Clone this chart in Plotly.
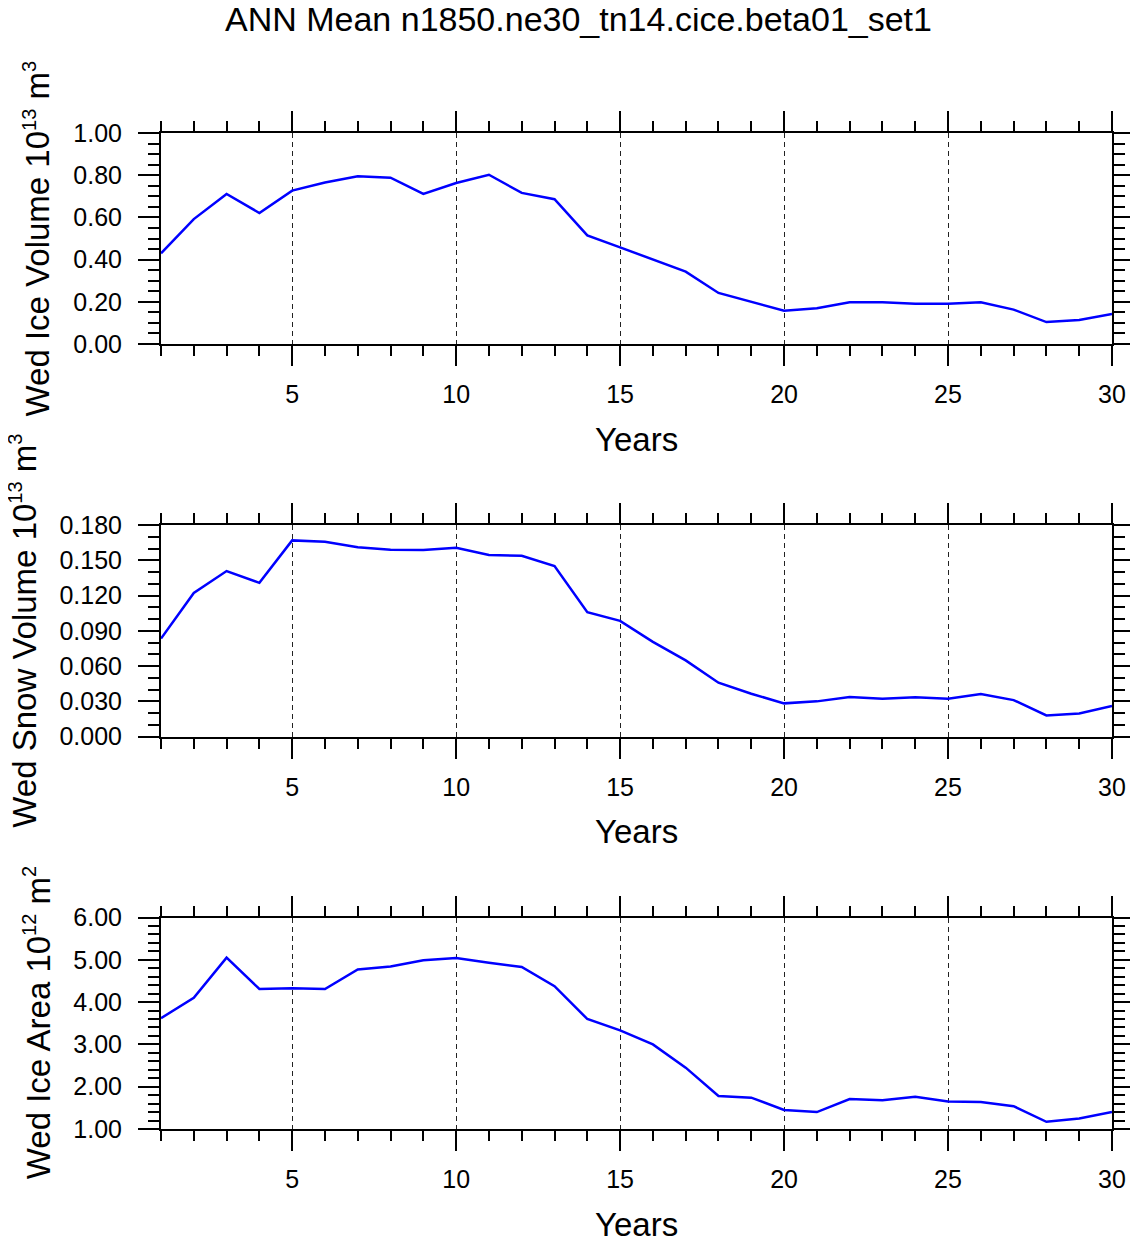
import plotly.graph_objects as go
from plotly.subplots import make_subplots

# data (years 1..30)
years = list(range(1, 31))

ice_volume = [0.430, 0.592, 0.711, 0.621, 0.727, 0.765, 0.795, 0.788, 0.711, 0.763,
              0.802, 0.716, 0.686, 0.515, 0.458, 0.400, 0.343, 0.242, 0.200, 0.158,
              0.169, 0.198, 0.198, 0.191, 0.191, 0.198, 0.163, 0.104, 0.114, 0.142]

snow_volume = [0.0833, 0.1222, 0.1408, 0.1308, 0.1669, 0.1658, 0.1610, 0.1590, 0.1587, 0.1607,
               0.1544, 0.1538, 0.1450, 0.1058, 0.0984, 0.0805, 0.0648, 0.0458, 0.0364, 0.0282,
               0.0299, 0.0336, 0.0321, 0.0333, 0.0321, 0.0361, 0.0310, 0.0179, 0.0196, 0.0259]

ice_area = [3.62, 4.10, 5.05, 4.31, 4.33, 4.31, 4.77, 4.84, 4.99, 5.04,
            4.93, 4.83, 4.375, 3.60, 3.33, 3.00, 2.45, 1.78, 1.74, 1.45,
            1.40, 1.71, 1.68, 1.76, 1.65, 1.64, 1.54, 1.17, 1.25, 1.40]

def sup(s):
    # NCL draws its superscripts a bit smaller than plotly's default
    return '<sup><span style="font-size:20px">%s</span></sup>' % s

panel_titles = ["Wed Ice Volume 10" + sup("13") + " m" + sup("3"),
                "Wed Snow Volume 10" + sup("13") + " m" + sup("3"),
                "Wed Ice Area 10" + sup("12") + " m" + sup("2")]
y_ranges = [(0, 1.0), (0, 0.18), (1, 6)]
y_dticks = [0.2, 0.03, 1.0]
y_minor = [0.05, 0.01, 0.2]
y_formats = [".2f", ".3f", ".2f"]
series = [ice_volume, snow_volume, ice_area]

# the page body has an 8px margin, so the figure is drawn 8px smaller
# and all screen positions below are shifted by that offset
OFF = 8
W, H = 1138 - OFF, 1241 - OFF
FONT = "Liberation Sans, Arial, Helvetica, sans-serif"

def px_x(p):
    return (p - OFF) / W

def px_y(p):
    return 1 - (p - OFF) / H

# screen boxes of the three plot areas (top, bottom)
boxes = [(133, 344), (525, 736.5), (917.5, 1129)]
left, right = 161, 1112
title_x = [37, 24, 37]

fig = make_subplots(rows=3, cols=1)

annotations = []
for i in range(3):
    r = i + 1
    fig.add_trace(go.Scatter(x=years, y=series[i], mode="lines",
                             line=dict(color="#0000ff", width=2.5),
                             hoverinfo="x+y", showlegend=False), row=r, col=1)
    top, bot = boxes[i]
    fig.update_xaxes(
        domain=[px_x(left), px_x(right)], range=[1, 30],
        tick0=0, dtick=5, ticks="outside", ticklen=20, tickwidth=2, tickcolor="black",
        showline=True, linewidth=2, linecolor="black", mirror="ticks",
        showgrid=True, gridcolor="#222", griddash="5px,4px", gridwidth=1,
        zeroline=False, tickfont=dict(family=FONT, size=25, color="black"),
        ticklabelstandoff=7,
        minor=dict(dtick=1, ticks="outside", ticklen=10, tickwidth=1.5,
                   tickcolor="black", showgrid=False),
        row=r, col=1)
    fig.update_yaxes(
        domain=[px_y(bot), px_y(top)], range=list(y_ranges[i]),
        tick0=0, dtick=y_dticks[i], tickformat=y_formats[i],
        ticks="outside", ticklen=21, tickwidth=2, tickcolor="black",
        showline=True, linewidth=2, linecolor="black", mirror="ticks",
        showgrid=False, zeroline=False,
        tickfont=dict(family=FONT, size=25, color="black"),
        ticklabelstandoff=11,
        minor=dict(dtick=y_minor[i], tick0=0, ticks="outside", ticklen=11, tickwidth=1.5,
                   tickcolor="black", showgrid=False),
        row=r, col=1)
    annotations.append(dict(text=panel_titles[i], textangle=-90,
                            x=px_x(title_x[i]), y=px_y((top + bot) / 2),
                            xref="paper", yref="paper", xanchor="center", yanchor="middle",
                            showarrow=False, font=dict(family=FONT, size=33, color="black")))
    annotations.append(dict(text="Years", x=px_x((left + right) / 2), y=px_y(bot + 95),
                            xref="paper", yref="paper", xanchor="center", yanchor="middle",
                            showarrow=False, font=dict(family=FONT, size=33, color="black")))

annotations.append(dict(text="ANN Mean n1850.ne30_tn14.cice.beta01_set1",
                        x=px_x(578), y=px_y(19), xref="paper", yref="paper",
                        xanchor="center", yanchor="middle", showarrow=False,
                        font=dict(family=FONT, size=34, color="black")))

fig.update_layout(
    width=W, height=H, autosize=False,
    margin=dict(l=0, r=0, t=0, b=0, autoexpand=False),
    plot_bgcolor="white", paper_bgcolor="white",
    annotations=annotations,
    showlegend=False,
)

fig.write_html("out.html")
